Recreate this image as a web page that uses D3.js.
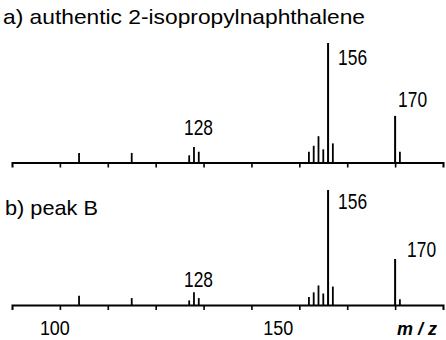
<!DOCTYPE html>
<html><head><meta charset="utf-8">
<script src="https://cdn.jsdelivr.net/npm/d3@7"></script>
<style>
html,body{margin:0;padding:0;background:#fff;}
svg{display:block;}
text{font-family:"Liberation Sans",Arial,sans-serif;fill:#000;}
</style></head>
<body>
<svg id="c" width="446" height="340"></svg>
<script>
// ---- data ----
const mz = [104, 115, 127, 128, 129, 152, 153, 154, 155, 156, 157, 170, 171];
const intensityA = [8, 8, 6, 13, 9, 9, 14, 22, 11, 100, 16, 39, 9];
const intensityB = [8, 6, 4, 11, 6, 7, 11, 17, 10, 100, 16, 40, 5];
const labeledPeaks = [128, 156, 170];
const tickValues = [100, 110, 120, 130, 140, 150, 160, 170];
const tickLabels = [100, 150];
const titles = ["a) authentic 2-isopropylnaphthalene", "b) peak B"];
const axisTitle = "m / z";

// ---- layout ----
const svg = d3.select("#c");
const x = d3.scaleLinear().domain([90, 180]).range([12, 443]);
const panels = [
  {vals: intensityA, y: d3.scaleLinear().domain([0, 100]).range([162.5, 43]), title: titles[0],
   tx: 3, ty: 24, tlen: 362, gap: {128: 12, 156: -22, 170: 9}},
  {vals: intensityB, y: d3.scaleLinear().domain([0, 100]).range([305, 190]), title: titles[1],
   tx: 5, ty: 215, tlen: 93, gap: {128: 5, 156: -19, 170: 2}}
];

function condensedText(g, str, xx, yy, size, len, anchor) {
  const t = g.append("text").attr("x", xx).attr("y", yy)
    .attr("font-size", size).text(str);
  if (len) t.attr("textLength", len).attr("lengthAdjust", "spacingAndGlyphs");
  if (anchor) t.attr("text-anchor", anchor);
  return t;
}

panels.forEach((p, pi) => {
  const g = svg.append("g");
  const base = p.y(0);
  // axis
  const ax = d3.axisBottom(x).tickValues(tickValues).tickSize(5).tickSizeOuter(5).tickFormat("");
  const axg = g.append("g").attr("transform", `translate(0,${base})`).call(ax);
  axg.select(".domain").attr("stroke", "#000").attr("stroke-width", 2).attr("fill", "none");
  axg.selectAll(".tick line").attr("stroke", "#000").attr("stroke-width", 1.6);

  // peaks
  g.selectAll("line.peak").data(mz.map((m, i) => ({m, v: p.vals[i]})))
    .join("line").attr("class", "peak")
    .attr("x1", d => x(d.m)).attr("x2", d => x(d.m))
    .attr("y1", base).attr("y2", d => p.y(d.v))
    .attr("stroke", "#000").attr("stroke-width", d => d.v >= 30 ? 2 : 1.8);

  // peak labels
  labeledPeaks.forEach(m => {
    const i = mz.indexOf(m);
    const top = p.y(p.vals[i]);
    let lx;
    if (m === 156) lx = x(m) + 10;
    else if (m === 170) lx = x(m) + 3 + (pi === 1 ? 9 : 0);
    else lx = x(m) - 10;
    condensedText(g, String(m), lx, top - p.gap[m], 22, 29);
  });

  // panel title
  condensedText(g, p.title, p.tx, p.ty, 21, p.tlen);

  if (pi === 1) {
    tickLabels.forEach(v => {
      const nud = v === 100 ? -5 : -21;
      condensedText(g, String(v), x(v) + nud, 335, 20, 30, "middle");
    });
    g.append("text").attr("x", 417).attr("y", 335).attr("text-anchor", "middle")
      .attr("font-family", "'Liberation Serif','DejaVu Serif',serif")
      .attr("font-style", "italic").attr("font-weight", "bold").attr("font-size", 18)
      .text(axisTitle);
  }
});
</script>
</body></html>
